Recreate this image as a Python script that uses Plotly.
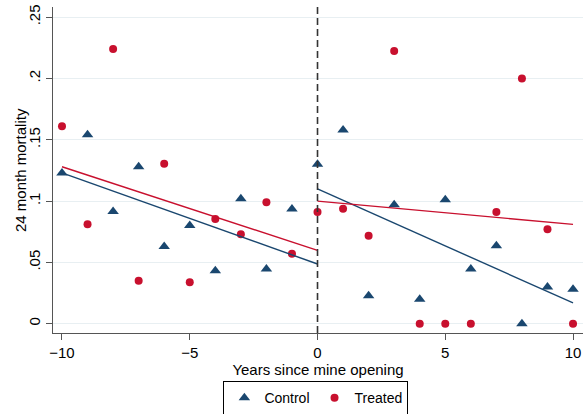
import plotly.graph_objects as go

years = list(range(-10, 11))
control = [0.123, 0.154, 0.0916, 0.128, 0.063, 0.080, 0.0432, 0.102, 0.0446, 0.0935, 0.130,
           0.158, 0.0228, 0.097, 0.020, 0.101, 0.0446, 0.0636, 0.0, 0.030, 0.028]
treated = [0.161, 0.081, 0.224, 0.035, 0.1305, 0.0337, 0.0854, 0.073, 0.099, 0.057, 0.091,
           0.0938, 0.0718, 0.2224, 0.0, 0.0, 0.0, 0.091, 0.200, 0.077, 0.0]

# Fitted lines (endpoints)
fit_pre_x = [-10, 0]
fit_post_x = [0, 10]
control_fit_pre = [0.123, 0.0487]
control_fit_post = [0.110, 0.0169]
treated_fit_pre = [0.128, 0.0598]
treated_fit_post = [0.100, 0.081]

y_ticks = [0, 0.05, 0.1, 0.15, 0.2, 0.25]
y_ticktext = ["0", ".05", ".1", ".15", ".2", ".25"]
x_ticks = [-10, -5, 0, 5, 10]

NAVY = "#1a476f"
RED = "#c8102e"
FONT = "Liberation Sans, Arial, sans-serif"

fig = go.Figure()

fig.add_trace(go.Scatter(x=years, y=control, mode="markers", name="Control", cliponaxis=False,
                         marker=dict(symbol="triangle-up", size=10, color=NAVY)))
fig.add_trace(go.Scatter(x=years, y=treated, mode="markers", name="Treated", cliponaxis=False,
                         marker=dict(symbol="circle", size=8, color=RED)))

for xs, ys, c in [(fit_pre_x, control_fit_pre, NAVY), (fit_post_x, control_fit_post, NAVY),
                  (fit_pre_x, treated_fit_pre, RED), (fit_post_x, treated_fit_post, RED)]:
    fig.add_trace(go.Scatter(x=xs, y=ys, mode="lines", showlegend=False,
                             line=dict(color=c, width=1.4)))

fig.add_shape(type="line", xref="x", yref="paper", x0=0, x1=0, y0=0, y1=1,
              line=dict(color="#333333", width=1.6, dash="7px,4px"))

fig.add_annotation(text="24 month mortality", textangle=-90, xref="paper", yref="paper",
                   x=0, y=0.5, xanchor="center", yanchor="middle", xshift=-33,
                   showarrow=False, font=dict(size=15))

fig.update_layout(
    width=583, height=414,
    margin=dict(l=53, r=0, t=7, b=81, autoexpand=False),
    paper_bgcolor="white", plot_bgcolor="white",
    font=dict(family=FONT, size=14, color="#000000"),
    showlegend=True,
    legend=dict(orientation="h", x=0.496, xanchor="center", y=-0.148, yanchor="top",
                bordercolor="#000000", borderwidth=1, font=dict(size=14),
                itemwidth=30, tracegroupgap=0),
    xaxis=dict(range=[-10.352, 10.39], tickvals=x_ticks, ticks="outside", ticklen=6,
               tickcolor="#555555", showline=True, linecolor="#555555", linewidth=1.2,
               showgrid=False, zeroline=False, automargin=False,
               title=dict(text="Years since mine opening", font=dict(size=15), standoff=4),
               tickfont=dict(size=15)),
    yaxis=dict(range=[-0.0076, 0.2583], tickvals=y_ticks, ticktext=y_ticktext,
               tickangle=-90, ticks="outside", ticklen=6, tickcolor="#555555",
               showline=True, linecolor="#555555", linewidth=1.2, automargin=False,
               showgrid=True, gridcolor="#e8eff2", gridwidth=1, zeroline=False,
               tickfont=dict(size=15)),
)

fig.write_html("out.html", config={"displayModeBar": False},
               post_script="document.body.style.margin='0';document.body.style.overflow='hidden';")
